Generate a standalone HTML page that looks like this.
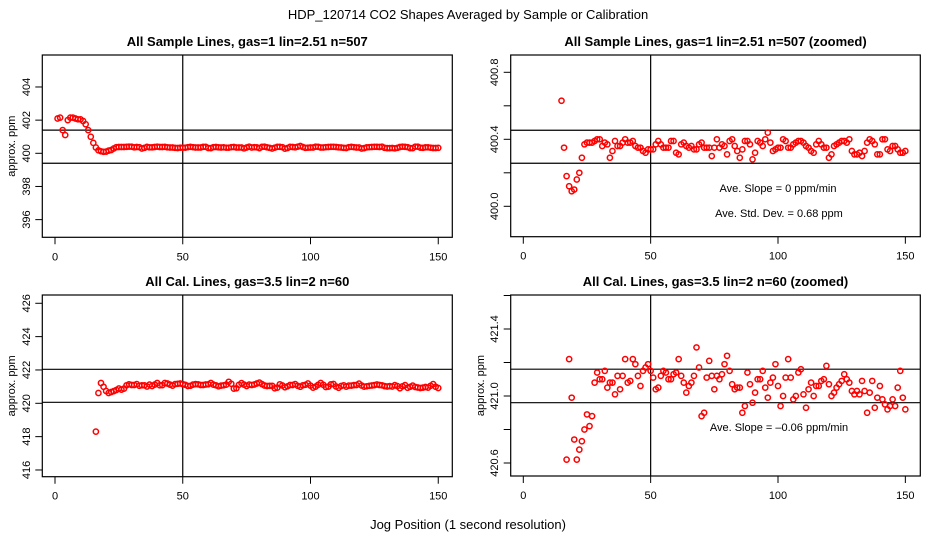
<!DOCTYPE html>
<html><head><meta charset="utf-8">
<style>
html,body{margin:0;padding:0;background:#fff;width:936px;height:540px;overflow:hidden;}
svg{display:block;font-family:"Liberation Sans",sans-serif;}
</style></head>
<body>
<svg id="chart" width="936" height="540" viewBox="0 0 936 540">
<rect x="0" y="0" width="936" height="540" fill="#fff"/>
<text x="468" y="19" text-anchor="middle" font-size="13">HDP_120714  CO2 Shapes Averaged by Sample or Calibration</text>
<text x="468" y="529" text-anchor="middle" font-size="13">Jog Position (1 second resolution)</text>
<g id="g"></g>
</svg>
<script>
const sampleX = [1,2,3,4,5,6,7,8,9,10,11,12,13,14,15,16,17,18,19,20,21,22,23,24,25,26,27,28,29,30,31,32,33,34,35,36,37,38,39,40,41,42,43,44,45,46,47,48,49,50,51,52,53,54,55,56,57,58,59,60,61,62,63,64,65,66,67,68,69,70,71,72,73,74,75,76,77,78,79,80,81,82,83,84,85,86,87,88,89,90,91,92,93,94,95,96,97,98,99,100,101,102,103,104,105,106,107,108,109,110,111,112,113,114,115,116,117,118,119,120,121,122,123,124,125,126,127,128,129,130,131,132,133,134,135,136,137,138,139,140,141,142,143,144,145,146,147,148,149,150];
const sampleY = [402.1,402.15,401.4,401.1,402.0,402.15,402.15,402.1,402.05,402.05,401.95,401.75,401.4,401.0,400.63,400.35,400.18,400.12,400.09,400.1,400.16,400.2,400.29,400.37,400.38,400.38,400.38,400.39,400.4,400.4,400.36,400.38,400.37,400.29,400.33,400.39,400.36,400.36,400.38,400.4,400.38,400.38,400.39,400.36,400.35,400.35,400.33,400.32,400.34,400.34,400.34,400.37,400.39,400.37,400.35,400.35,400.35,400.39,400.39,400.32,400.31,400.37,400.38,400.36,400.35,400.36,400.34,400.34,400.37,400.38,400.35,400.35,400.35,400.3,400.35,400.4,400.35,400.37,400.36,400.31,400.39,400.4,400.36,400.33,400.29,400.34,400.39,400.39,400.37,400.28,400.32,400.39,400.38,400.36,400.4,400.44,400.38,400.33,400.34,400.35,400.35,400.4,400.39,400.35,400.35,400.37,400.38,400.39,400.39,400.38,400.36,400.35,400.33,400.32,400.37,400.39,400.37,400.35,400.35,400.29,400.31,400.36,400.37,400.38,400.39,400.39,400.38,400.4,400.33,400.31,400.31,400.32,400.3,400.33,400.38,400.4,400.39,400.37,400.31,400.31,400.4,400.4,400.34,400.33,400.36,400.36,400.34,400.32,400.32,400.33];
const calX = [16,17,18,19,20,21,22,23,24,25,26,27,28,29,30,31,32,33,34,35,36,37,38,39,40,41,42,43,44,45,46,47,48,49,50,51,52,53,54,55,56,57,58,59,60,61,62,63,64,65,66,67,68,69,70,71,72,73,74,75,76,77,78,79,80,81,82,83,84,85,86,87,88,89,90,91,92,93,94,95,96,97,98,99,100,101,102,103,104,105,106,107,108,109,110,111,112,113,114,115,116,117,118,119,120,121,122,123,124,125,126,127,128,129,130,131,132,133,134,135,136,137,138,139,140,141,142,143,144,145,146,147,148,149,150];
const calY = [418.3,420.62,421.22,420.99,420.74,420.62,420.68,420.73,420.8,420.89,420.82,420.88,421.08,421.14,421.1,421.1,421.15,421.05,421.08,421.08,421.01,421.12,421.04,421.12,421.22,421.08,421.09,421.22,421.19,421.12,421.06,421.15,421.17,421.19,421.15,421.11,421.04,421.05,421.12,421.15,421.14,421.1,421.1,421.13,421.14,421.22,421.12,421.08,421.02,421.06,421.08,421.12,421.29,421.17,420.88,420.9,421.11,421.21,421.12,421.04,421.12,421.1,421.13,421.19,421.24,421.15,421.07,421.04,421.05,421.05,420.9,420.94,421.14,421.07,420.96,421.02,421.1,421.1,421.15,421.05,420.99,421.08,421.11,421.19,421.06,420.94,421.0,421.11,421.22,421.11,420.98,421.0,421.14,421.16,421.01,420.93,421.04,421.08,421.0,421.06,421.06,421.09,421.1,421.18,421.07,421.0,421.02,421.05,421.07,421.09,421.13,421.1,421.08,421.03,421.01,421.03,421.01,421.09,421.03,420.9,421.02,421.09,420.93,420.99,421.06,420.98,420.95,420.92,420.94,420.98,420.94,421.05,421.15,420.99,420.92];
const xTicks = [0,50,100,150];
const p1Ticks = [396,398,400,402,404];
const p2Ticks = [400.0,400.2,400.4,400.6,400.8];
const p2Labels = [400.0,400.4,400.8];
const p3Ticks = [416,418,420,422,424,426];
const p4Ticks = [420.6,420.8,421.0,421.2,421.4,421.6];
const p4Labels = [420.6,421.0,421.4];
const p1Lines = [401.4,399.4];
const p2Lines = [400.454,400.257];
const p3Lines = [422.04,420.06];
const p4Lines = [421.16,420.96];

const NS = "http://www.w3.org/2000/svg";
const G = document.getElementById('g');
function mk(tag, attrs, parent){
  const e = document.createElementNS(NS, tag);
  for (const k in attrs) e.setAttribute(k, attrs[k]);
  (parent||G).appendChild(e); return e;
}
const panels = [
  {id:'p1', title:'All Sample Lines, gas=1 lin=2.51 n=507', L:42.3,R:452.3,T:55,B:237.3, x0:55, xs:2.555, y0:400, yp:153.3, ys:16.58, ticks:p1Ticks, labels:p1Ticks, fmt:0, lines:p1Lines, xs_:sampleX, ys_:sampleY, ylab:true, labX:26, ylabX:11},
  {id:'p2', title:'All Sample Lines, gas=1 lin=2.51 n=507 (zoomed)', L:510.7,R:920.3,T:55,B:236.7, x0:523.3, xs:2.547, y0:400.4, yp:139.3, ys:167.5, ticks:p2Ticks, labels:p2Labels, fmt:1, lines:p2Lines, xs_:sampleX, ys_:sampleY, ylab:false, labX:494, ylabX:480},
  {id:'p3', title:'All Cal. Lines, gas=3.5 lin=2 n=60', L:42.3,R:452.3,T:295,B:476.7, x0:55, xs:2.555, y0:420, yp:403.3, ys:16.67, ticks:p3Ticks, labels:p3Ticks, fmt:0, lines:p3Lines, xs_:calX, ys_:calY, ylab:true, labX:26, ylabX:11},
  {id:'p4', title:'All Cal. Lines, gas=3.5 lin=2 n=60 (zoomed)', L:510.7,R:920.3,T:295,B:476, x0:523.3, xs:2.547, y0:421.0, yp:396, ys:167.5, ticks:p4Ticks, labels:p4Labels, fmt:1, lines:p4Lines, xs_:calX, ys_:calY, ylab:true, labX:494, ylabX:480}
];
panels.forEach(p=>{
  const g = mk('g',{});
  
  
  const X = v => p.x0 + v*p.xs;
  const Y = v => p.yp - (v - p.y0)*p.ys;
  const cid = 'clip-'+p.id;
  const cp = mk('clipPath',{id:cid},g);
  mk('rect',{x:p.L,y:p.T,width:p.R-p.L,height:p.B-p.T},cp);
  const t = mk('text',{x:(p.L+p.R)/2,y:p.T-9,'text-anchor':'middle','font-size':13,'font-weight':'bold'},g);
  t.textContent = p.title;
  
  
  const vl = mk('line',{x1:X(50),x2:X(50),y1:p.T,y2:p.B,stroke:'#000','stroke-width':1.2},g);
  
  
  p.lines.forEach(v=>{
    const hl = mk('line',{x1:p.L,x2:p.R,y1:Y(v),y2:Y(v),stroke:'#000','stroke-width':1.2},g);
    
    
  });
  const pg = mk('g',{'clip-path':'url(#'+cid+')'},g);
  
  
  p.xs_.forEach((xv,i)=>{
    const c = mk('circle',{cx:X(xv),cy:Y(p.ys_[i]),r:2.6,fill:'none',stroke:'#f00','stroke-width':1.5},pg);
    
    
  });
  const bx = mk('rect',{x:p.L,y:p.T,width:p.R-p.L,height:p.B-p.T,fill:'none',stroke:'#000','stroke-width':1.2},g);
  
  
  xTicks.forEach(v=>{
    mk('line',{x1:X(v),x2:X(v),y1:p.B,y2:p.B+7,stroke:'#000','stroke-width':1},g);
    const tl = mk('text',{x:X(v),y:p.B+23,'text-anchor':'middle','font-size':11},g);
    tl.textContent = v;
    
    
  });
  p.ticks.forEach(v=>{
    mk('line',{x1:p.L-7,x2:p.L,y1:Y(v),y2:Y(v),stroke:'#000','stroke-width':1},g);
  });
  p.labels.forEach(v=>{
    const tl = mk('text',{x:0,y:0,'text-anchor':'middle','font-size':11,transform:'translate('+(p.labX+4)+','+Y(v)+') rotate(-90)'},g);
    tl.textContent = v.toFixed(p.fmt);
    
    
  });
  if (p.ylab){
    const yl = mk('text',{x:0,y:0,'text-anchor':'middle','font-size':11,transform:'translate('+(p.ylabX+4)+','+((p.T+p.B)/2)+') rotate(-90)'},g);
    yl.textContent = 'approx. ppm';
    
    
  }
});
function note(x,y,s,name){
  const t = mk('text',{x:x,y:y,'text-anchor':'middle','font-size':11});
  t.textContent = s;
  
  
}
note(778,192,'Ave. Slope =  0  ppm/min','p2-slope-note');
note(779,217,'Ave. Std. Dev. =  0.68  ppm','p2-stddev-note');
note(779,431,'Ave. Slope =  \u20130.06  ppm/min','p4-slope-note');
</script>
</body></html>
